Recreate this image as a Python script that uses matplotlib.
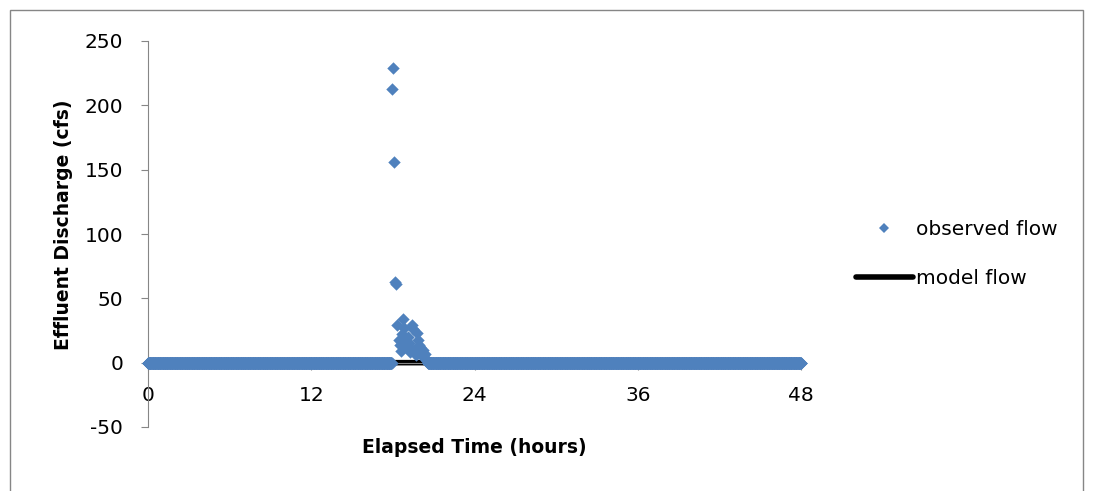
import numpy as np
import matplotlib
matplotlib.use("Agg")
import matplotlib.pyplot as plt
from matplotlib.patches import Rectangle
from matplotlib.lines import Line2D

# ---- data ----
# baseline record (1-minute logging) with zero observed discharge
baseline_minutes = np.arange(0, 48 * 60 + 1, 1)
# storm event (5-minute samples starting at 17:55 elapsed)
event_start_minute = 1075
event_step_minutes = 5
event_values = [213, 229, 156, 63, 61, 29, 18, 14, 9, 22, 34, 27, 17, 12,
                20, 15, 8, 11, 29, 26, 10, 6, 23, 18, 14, 12, 8, 5, 10, 7,
                3, 1, 0]
event_minutes = event_start_minute + event_step_minutes * np.arange(len(event_values))

in_event = (baseline_minutes >= event_minutes[0]) & (baseline_minutes <= event_minutes[-1])
obs_time_hours = np.concatenate([baseline_minutes[~in_event], event_minutes]) / 60.0
observed_flow = np.concatenate([np.zeros((~in_event).sum()), np.array(event_values, float)])

model_time_hours = baseline_minutes / 60.0
model_flow = np.zeros(len(baseline_minutes))

x_ticks = [0, 12, 24, 36, 48]
y_ticks = [-50, 0, 50, 100, 150, 200, 250]

blue = "#4F81BD"
grey = "#868686"

plt.rcParams['font.family'] = ['DejaVu Sans']
plt.rcParams['axes.unicode_minus'] = False

fig = plt.figure(figsize=(10.94, 4.91), dpi=100)
fig.patches.append(Rectangle((10 / 1094, -0.1), 1083 / 1094 - 10 / 1094, 1.1 - 10 / 491,
                             transform=fig.transFigure, fill=False,
                             edgecolor=grey, linewidth=1.0))

ax = fig.add_axes([148 / 1094, 1 - 427 / 491, (801 - 148) / 1094, (427 - 41) / 491])

ax.plot(model_time_hours, model_flow, color="black", linewidth=4.0, zorder=2,
        solid_capstyle="butt")
ax.scatter(obs_time_hours, observed_flow, marker="D", s=40, color=blue,
           linewidths=0, zorder=3, clip_on=False)

ax.set_xlim(0, 48)
ax.set_ylim(-50, 250)

for s in ["top", "right"]:
    ax.spines[s].set_visible(False)
ax.spines["bottom"].set_position(("data", 0))
ax.spines["left"].set_color(grey)
ax.spines["bottom"].set_color(grey)

ax.set_xticks(x_ticks)
ax.set_yticks(y_ticks)
ax.tick_params(axis="y", direction="out", length=5, color=grey, labelsize=14.5, pad=13)
ax.tick_params(axis="x", direction="out", length=5, color=grey, labelsize=14.5, pad=12)

ax.set_xlabel("Elapsed Time (hours)", fontsize=13.5, fontweight="bold")
ax.set_ylabel("Effluent Discharge (cfs)", fontsize=13.5, fontweight="bold")
ax.xaxis.set_label_coords(0.5, -(438 - 427) / 386, transform=ax.transAxes)
ax.yaxis.set_label_coords((73 - 148) / 653, (427 - 224.5) / 386, transform=ax.transAxes)

legend_handles = [
    Line2D([], [], linestyle="none", marker="D", markersize=5.5, color=blue, markeredgewidth=0),
    Line2D([], [], color="black", linewidth=4.0, solid_capstyle="round"),
]
ax.legend(legend_handles, ["observed flow", "model flow"],
          loc="center left", bbox_to_anchor=(838 / 1094, 1 - 254 / 491),
          bbox_transform=fig.transFigure, frameon=False, fontsize=14.5,
          handlelength=2.8, labelspacing=1.5, handletextpad=0.15)

fig.savefig("out.png", dpi=100)
